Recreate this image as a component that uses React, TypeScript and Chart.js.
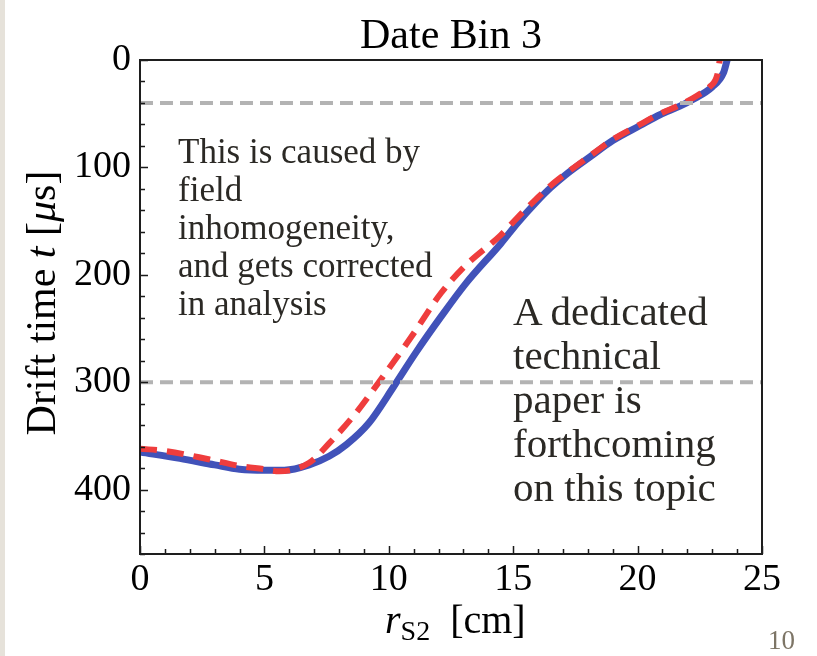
import React, { useEffect, useRef } from "react";
import { Chart, registerables } from "chart.js";

Chart.register(...registerables);

// Radial position r_S2 [cm] and drift time t [µs] for the two curves
const radiusBlue = [0, 1.6, 3.0, 4.0, 5.0, 5.8, 6.8, 7.6, 8.3, 9.2, 10.2, 11.1, 12.1, 13.1, 14.5, 15.2, 15.9, 16.5, 17.1, 18.1, 19.0, 20.1, 20.9, 21.7, 22.2, 23.0, 23.45, 23.6];
const driftBlue = [365, 371, 377, 381, 382, 382, 377, 369, 358, 338, 304, 272, 239, 208, 171, 151, 133, 119, 107, 90, 75, 61, 51, 43, 37, 25, 12, 0];

const radiusRed = [0, 1.0, 2.8, 4.0, 5.0, 5.6, 6.8, 7.6, 8.7, 9.6, 10.9, 12.1, 13.1, 14.5, 15.2, 15.9, 16.5, 17.1, 18.1, 19.0, 20.1, 20.9, 21.7, 22.4, 22.9, 23.2, 23.3];
const driftRed = [362, 364, 372, 378, 381, 383, 375, 357, 328, 300, 258, 217, 191, 163, 146, 130, 117, 106, 89, 74, 60, 50, 42, 33, 25, 14, 0];

// Horizontal reference drift times
const referenceDrifts = [40, 300];

const X_MIN = 0;
const X_MAX = 25;
const X_STEP = 5;
const X_MINOR = 1;
const Y_MIN = 0;
const Y_MAX = 460;
const Y_STEP = 100;
const Y_MINOR = 20;

const titleText = "Date Bin 3";
const noteLeft = ["This is caused by", "field", "inhomogeneity,", "and gets corrected", "in analysis"];
const noteRight = ["A dedicated", "technical", "paper is", "forthcoming", "on this topic"];
const pageNumber = "10";

const SERIF = "'Liberation Serif', 'Times New Roman', serif";

type Run = { text: string; font: string; dy?: number };

function drawRuns(ctx: CanvasRenderingContext2D, runs: Run[], x: number, y: number, align: "left" | "center") {
  let total = 0;
  const widths = runs.map((r) => {
    ctx.font = r.font;
    const w = ctx.measureText(r.text).width;
    total += w;
    return w;
  });
  let cx = align === "center" ? x - total / 2 : x;
  ctx.textAlign = "left";
  ctx.textBaseline = "alphabetic";
  runs.forEach((r, i) => {
    ctx.font = r.font;
    ctx.fillText(r.text, cx, y + (r.dy || 0));
    cx += widths[i];
  });
}

const framePlugin = {
  id: "frame",
  afterDraw(chart: any) {
    const { ctx, chartArea: a, scales } = chart;
    const xs = scales.x;
    const ys = scales.y;
    ctx.save();

    // inward tick marks on the bottom and left axes
    ctx.strokeStyle = "#1a1a1a";
    ctx.lineWidth = 1.5;
    ctx.beginPath();
    for (let v = X_MIN; v <= X_MAX + 1e-9; v += X_MINOR) {
      const px = Math.round(xs.getPixelForValue(v)) + 0.5;
      const len = Math.abs(v % X_STEP) < 1e-9 ? 8 : 5;
      ctx.moveTo(px, a.bottom);
      ctx.lineTo(px, a.bottom - len);
    }
    for (let v = Y_MIN; v <= Y_MAX + 1e-9; v += Y_MINOR) {
      const py = Math.round(ys.getPixelForValue(v)) + 0.5;
      const len = Math.abs(v % Y_STEP) < 1e-9 ? 8 : 5;
      ctx.moveTo(a.left, py);
      ctx.lineTo(a.left + len, py);
    }
    ctx.stroke();

    // axes frame
    ctx.lineWidth = 2;
    ctx.strokeStyle = "#1e1e1e";
    ctx.strokeRect(a.left, a.top, a.right - a.left, a.bottom - a.top);

    // title
    ctx.fillStyle = "#000";
    ctx.font = `42px ${SERIF}`;
    ctx.textAlign = "center";
    ctx.textBaseline = "alphabetic";
    ctx.fillText(titleText, (a.left + a.right) / 2, 48);

    // x axis title: r_S2 [cm]
    drawRuns(
      ctx,
      [
        { text: "r", font: `italic 40px ${SERIF}` },
        { text: "S2", font: `28px ${SERIF}`, dy: 7 },
        { text: "  [cm]", font: `40px ${SERIF}` },
      ],
      385,
      633,
      "left"
    );

    // y axis title: Drift time t [µs]
    ctx.save();
    ctx.translate(55, 303);
    ctx.rotate(-Math.PI / 2);
    drawRuns(
      ctx,
      [
        { text: "Drift time ", font: `42px ${SERIF}` },
        { text: "t", font: `italic 42px ${SERIF}` },
        { text: " [", font: `42px ${SERIF}` },
        { text: "\u03bc", font: `italic 42px ${SERIF}` },
        { text: "s]", font: `42px ${SERIF}` },
      ],
      0,
      0,
      "center"
    );
    ctx.restore();

    ctx.restore();
  },
};

export default function App() {
  const canvasRef = useRef<HTMLCanvasElement | null>(null);

  useEffect(() => {
    const canvas = canvasRef.current;
    if (!canvas) return;

    const refSets = referenceDrifts.map((t) => ({
      label: `t = ${t} µs`,
      data: [
        { x: X_MIN, y: t },
        { x: X_MAX, y: t },
      ],
      borderColor: "#b3b3b3",
      borderWidth: 4,
      borderDash: [13, 7],
      pointRadius: 0,
      tension: 0,
    }));

    const chart = new Chart(canvas, {
      type: "line",
      data: {
        datasets: [
          ...refSets,
          {
            label: "model",
            data: radiusRed.map((r, i) => ({ x: r, y: driftRed[i] })),
            borderColor: "#ef3d3d",
            borderWidth: 6,
            borderDash: [17, 10],
            borderCapStyle: "butt",
            pointRadius: 0,
            cubicInterpolationMode: "monotone",
          },
          {
            label: "data",
            data: radiusBlue.map((r, i) => ({ x: r, y: driftBlue[i] })),
            borderColor: "#4152b9",
            borderWidth: 7,
            borderJoinStyle: "round",
            pointRadius: 0,
            cubicInterpolationMode: "monotone",
          },
        ],
      },
      options: {
        responsive: false,
        animation: false,
        devicePixelRatio: 1,
        layout: { padding: { top: 60, right: 55, left: 0, bottom: 0 } },
        plugins: {
          legend: { display: false },
          tooltip: { enabled: false },
          title: { display: false },
        },
        scales: {
          x: {
            type: "linear",
            min: X_MIN,
            max: X_MAX,
            grid: { display: false, drawTicks: false },
            border: { display: false },
            ticks: {
              stepSize: X_STEP,
              padding: 3,
              color: "#000",
              font: { family: SERIF, size: 38 },
              maxRotation: 0,
            },
            afterFit: (s: any) => {
              s.height = 102;
            },
          },
          y: {
            type: "linear",
            reverse: true,
            min: Y_MIN,
            max: Y_MAX,
            grid: { display: false, drawTicks: false },
            border: { display: false },
            ticks: {
              stepSize: Y_STEP,
              includeBounds: false,
              padding: 9,
              color: "#000",
              font: { family: SERIF, size: 38 },
            },
            afterFit: (s: any) => {
              s.width = 140;
            },
          },
        },
      },
      plugins: [framePlugin],
    } as any);

    return () => chart.destroy();
  }, []);

  const noteColor = "#2b2925";

  return (
    <div
      style={{
        position: "fixed",
        left: 0,
        top: 0,
        width: 817,
        height: 656,
        background: "#ffffff",
        overflow: "hidden",
      }}
    >
      <div style={{ position: "absolute", left: 0, top: 0, width: 5, height: 656, background: "#e6e2da" }} />
      <canvas ref={canvasRef} width={817} height={656} style={{ position: "absolute", left: 0, top: 0, display: "block" }} />
      <div
        style={{
          position: "absolute",
          left: 178,
          top: 133,
          fontFamily: SERIF,
          fontSize: 35,
          lineHeight: "38px",
          color: noteColor,
          whiteSpace: "pre",
        }}
      >
        {noteLeft.join("\n")}
      </div>
      <div
        style={{
          position: "absolute",
          left: 513,
          top: 289,
          fontFamily: SERIF,
          fontSize: 41,
          lineHeight: "44px",
          color: noteColor,
          whiteSpace: "pre",
        }}
      >
        {noteRight.join("\n")}
      </div>
      <div
        style={{
          position: "absolute",
          left: 768,
          top: 627,
          fontFamily: SERIF,
          fontSize: 27,
          lineHeight: "27px",
          color: "#7d7566",
        }}
      >
        {pageNumber}
      </div>
    </div>
  );
}
